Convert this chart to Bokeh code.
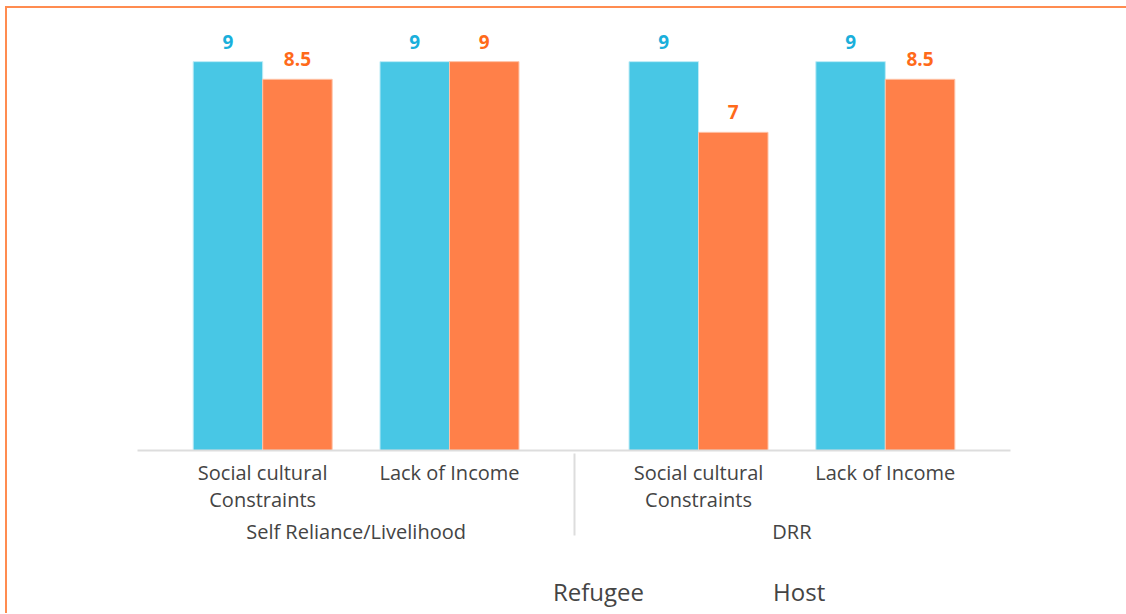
from bokeh.plotting import figure
from bokeh.layouts import column
from bokeh.models import FactorRange, Range1d, Legend, LegendItem, ColumnDataSource
from bokeh.transform import dodge
from bokeh.core.properties import value
from bokeh.embed import file_html
from bokeh.resources import INLINE

groups = ["Self Reliance/Livelihood", "Self Reliance/Livelihood", "DRR", "DRR"]
subcats = ["Social cultural\nConstraints", "Lack of Income", "Social cultural\nConstraints", "Lack of Income"]
refugee = [9, 9, 9, 9]
host = [8.5, 9, 7, 8.5]
refugee_labels = ["9", "9", "9", "9"]
host_labels = ["8.5", "9", "7", "8.5"]
series_names = ["Refugee", "Host"]
Y_MIN = -2
Y_MAX = 10.22

factors = list(zip(groups, subcats))
src = ColumnDataSource(dict(x=factors, refugee=refugee, host=host,
                            rl=refugee_labels, hl=host_labels))

FONT = "Open Sans"
BAR_BLUE = "#48C7E5"
BAR_ORANGE = "#FF8049"
TXT_BLUE = "#1AAFDB"
TXT_ORANGE = "#FF6A1A"
LEG_BLUE = "#00AAD6"
LEG_ORANGE = "#FF6B16"
FRAME = "2px solid #FF8C50"

xr = FactorRange(*factors, group_padding=0.333, range_padding=0.0785)
p = figure(x_range=xr, y_range=Range1d(Y_MIN, Y_MAX), width=1121, height=552,
           output_backend="svg", toolbar_location=None,
           min_border_left=130, min_border_right=118, min_border_top=10,
           min_border_bottom=110, outline_line_color=None)
p.styles = {"border-top": FRAME, "border-left": FRAME}
p.yaxis.visible = False

off = 0.186
bw = 0.372
p.vbar(x=dodge("x", -off, range=xr), top="refugee", bottom=Y_MIN, width=bw, source=src,
       fill_color=BAR_BLUE, line_color="#BDEBF6", line_width=1)
p.vbar(x=dodge("x", off, range=xr), top="host", bottom=Y_MIN, width=bw, source=src,
       fill_color=BAR_ORANGE, line_color="#FFC2A6", line_width=1)

p.text(x=dodge("x", -off, range=xr), y="refugee", text="rl", source=src,
       text_align="center", text_baseline="alphabetic", y_offset=-20,
       text_font=value(FONT), text_font_style="bold", text_font_size="19px",
       text_color=TXT_BLUE)
p.text(x=dodge("x", off, range=xr), y="host", text="hl", source=src,
       text_align="center", text_baseline="alphabetic", y_offset=-20,
       text_font=value(FONT), text_font_style="bold", text_font_size="19px",
       text_color=TXT_ORANGE)

p.xgrid.visible = False
p.ygrid.visible = False
ax = p.xaxis[0]
ax.axis_line_color = "#DDDDDD"
ax.axis_line_width = 2
ax.major_tick_line_color = None
ax.minor_tick_line_color = None
ax.major_label_standoff = 2
ax.major_label_text_font = FONT
ax.major_label_text_font_size = "20px"
ax.major_label_text_line_height = 1.0
ax.major_label_text_color = "#444444"
ax.group_text_font = FONT
ax.group_text_font_size = "20px"
ax.group_text_color = "#444444"
ax.group_text_font_style = "normal"
ax.separator_line_color = "#DDDDDD"
ax.separator_line_width = 2

# legend strip below the chart
p2 = figure(width=1121, height=55, x_range=Range1d(0, 1), y_range=Range1d(0, 1),
            output_backend="svg", toolbar_location=None, min_border=0,
            x_axis_location=None, y_axis_location=None, outline_line_color=None)
p2.styles = {"border-left": FRAME}
p2.xgrid.visible = False
p2.ygrid.visible = False
d1 = p2.vbar(x=[], top=[], width=0.1, fill_color=LEG_BLUE, line_color=None)
d2 = p2.vbar(x=[], top=[], width=0.1, fill_color=LEG_ORANGE, line_color=None)
legend = Legend(items=[LegendItem(label=series_names[0], renderers=[d1]),
                       LegendItem(label=series_names[1], renderers=[d2])],
                orientation="horizontal", location=(386, 5),
                border_line_color=None, background_fill_alpha=0,
                label_text_font=FONT, label_text_font_size="24px",
                label_text_color="#444444", glyph_width=18, glyph_height=18,
                label_height=24, padding=5, margin=0,
                spacing=99, label_standoff=12)
p2.add_layout(legend, "center")

layout = column(p, p2, styles={"margin-left": "5px", "margin-top": "6px"})
open("out.html", "w").write(file_html(layout, INLINE))
